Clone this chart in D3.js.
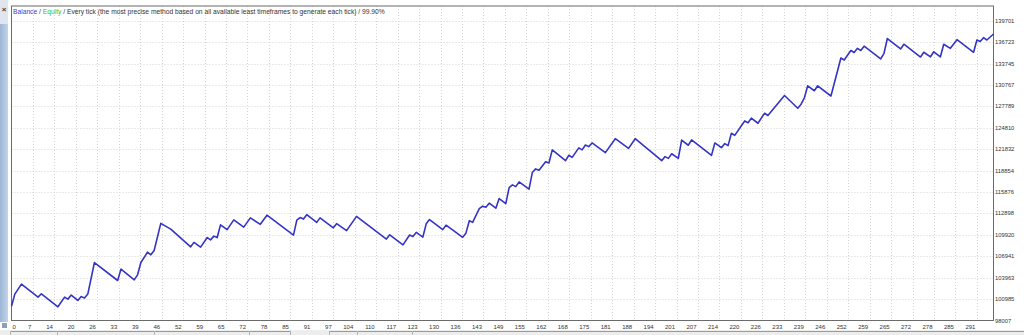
<!DOCTYPE html>
<html>
<head>
<meta charset="utf-8">
<script src="https://cdn.jsdelivr.net/npm/d3@7"></script>
<style>
  body { margin: 0; background: #fff; }
  svg { display: block; font-family: "Liberation Sans", Arial, sans-serif; }
</style>
</head>
<body>
<div id="chart"></div>
<script>
// balance curve from the strategy tester report (turning points only)
const trades = [0, 1, 3, 8, 9, 14, 16, 17, 18, 20, 21, 22, 23, 25, 32, 33, 37, 38, 39, 41,
  42, 43, 45, 48, 54, 55, 57, 59, 60, 61, 62, 63, 65, 67, 70, 72, 75, 77, 85, 86,
  87, 88, 89, 92, 93, 97, 98, 101, 104, 113, 114, 118, 120, 121, 122, 124, 125, 126, 130, 131,
  136, 137, 138, 139, 141, 142, 143, 144, 146, 147, 149, 150, 151, 152, 153, 156, 157, 158, 159, 161,
  162, 163, 167, 168, 169, 171, 172, 173, 174, 175, 179, 182, 186, 188, 196, 197, 198, 199, 201, 202,
  204, 205, 211, 212, 214, 215, 216, 217, 218, 221, 222, 223, 225, 227, 228, 233, 237, 238, 239, 240,
  242, 243, 247, 250, 251, 253, 254, 255, 256, 257, 262, 263, 264, 268, 269, 274, 275, 277, 278, 280,
  281, 283, 285, 290, 291, 292, 293, 294, 296]
const balance = [100000, 101680, 103070, 101260, 101720, 99910, 101260, 100980, 101540, 100790, 101340, 101120, 101680, 106070, 103570, 105150, 103660, 104360, 106070, 107510,
  107140, 107740, 111520, 110710, 108250, 108870, 108210, 109540, 109220, 109740, 109540, 111310, 110650, 112000, 110990, 112280, 111380, 112650, 109880, 111960,
  112320, 112110, 112720, 111650, 112280, 110900, 111470, 110510, 112490, 109330, 109930, 108530, 109890, 109680, 110260, 109610, 111450, 112040, 110650, 111270,
  109570, 110190, 111890, 111650, 113560, 113910, 113770, 114320, 113630, 114960, 114270, 116480, 116870, 116630, 117280, 116270, 118600, 119090, 118910, 120100,
  119920, 121730, 120240, 120990, 120690, 122010, 121730, 122420, 122190, 122700, 121350, 123290, 121940, 123290, 120230, 120800, 120550, 121200, 120550, 123090,
  122380, 123120, 120970, 122700, 122040, 122610, 122330, 124050, 123750, 125760, 125520, 126140, 125440, 126830, 126520, 129300, 127520, 128090, 128980, 130650,
  129960, 130650, 129230, 134510, 134240, 135560, 135280, 135860, 135560, 136160, 134380, 135170, 137220, 135770, 136430, 134650, 135310, 134680, 135380, 134680,
  136430, 135860, 137060, 135310, 137020, 136810, 137340, 137020, 137850]

const xTicks = [0, 7, 14, 20, 26, 33, 39, 46, 52, 59, 65, 72, 78, 85, 91, 97, 104, 110, 117, 123,
  130, 136, 143, 149, 155, 162, 168, 175, 181, 188, 194, 201, 207, 214, 220, 226, 233, 239, 246, 252,
  259, 265, 272, 278, 285, 291]
const yTicks = [98007, 100985, 103963, 106941, 109920, 112898, 115876, 118854, 121832, 124810,
  127789, 130767, 133745, 136723, 139701]

const legendParts = [
  { text: 'Balance', color: '#3b3bd0' },
  { text: ' / ', color: '#333' },
  { text: 'Equity', color: '#2fbf2f' },
  { text: ' / Every tick (the most precise method based on all available least timeframes to generate each tick) / 99.90%', color: '#333' }
]

const width = 1024
const height = 335
const plot = { left: 11.5, right: 993.5, top: 6, bottom: 320.5 }

const svg = d3.select('#chart')
  .append('svg')
  .attr('width', width)
  .attr('height', height)

const x = d3.scaleLinear()
  .domain([0, 296])
  .range([plot.left, plot.right])

const y = d3.scaleLinear()
  .domain([yTicks[0], yTicks[yTicks.length - 1]])
  .range([plot.bottom, 20.7])

// left side panel strip
const grad = svg.append('defs').append('linearGradient')
  .attr('id', 'strip')
  .attr('x1', 0).attr('x2', 1).attr('y1', 0).attr('y2', 0)
grad.append('stop').attr('offset', 0).attr('stop-color', '#9db6d6')
grad.append('stop').attr('offset', 1).attr('stop-color', '#c4d4e8')

svg.append('rect')
  .attr('x', 0).attr('y', 0)
  .attr('width', 8).attr('height', 24)
  .attr('fill', '#dfe6ef')
svg.append('rect')
  .attr('x', 0).attr('y', 24)
  .attr('width', 8).attr('height', 298)
  .attr('fill', 'url(#strip)')
svg.append('text')
  .attr('x', 4).attr('y', 12)
  .attr('text-anchor', 'middle')
  .attr('font-size', 8)
  .attr('font-weight', 'bold')
  .attr('fill', '#444')
  .text('×')
svg.append('rect')
  .attr('x', 2).attr('y', 323)
  .attr('width', 5).attr('height', 5)
  .attr('fill', '#8aa0bb')

// bottom toolbar band
svg.append('rect')
  .attr('x', 0).attr('y', 330)
  .attr('width', width).attr('height', 5)
  .attr('fill', '#ededed')
svg.append('path')
  .attr('d', 'M10,331.5H290M329,331.5H1024')
  .attr('stroke', '#9a9a9a')
  .attr('fill', 'none')
svg.append('path')
  .attr('d', 'M10.5,331V335M57.5,331V335M154.5,331V335M249.5,331V335M290.5,331V335M329.5,331V335M357.5,331V335M412.5,331V335')
  .attr('stroke', '#b5b5b5')
  .attr('fill', 'none')

// grid
const xStep = xTicks[xTicks.length - 1] / (xTicks.length - 1)

svg.append('g')
  .selectAll('line')
  .data(xTicks.slice(1))
  .enter().append('line')
  .attr('x1', (d, i) => Math.round(x((i + 1) * xStep)) + 0.5)
  .attr('x2', (d, i) => Math.round(x((i + 1) * xStep)) + 0.5)
  .attr('y1', plot.top)
  .attr('y2', plot.bottom)
  .attr('stroke', '#d4d4d4')
  .attr('stroke-dasharray', '1,2')

svg.append('g')
  .selectAll('line')
  .data(yTicks.slice(1))
  .enter().append('line')
  .attr('x1', plot.left)
  .attr('x2', plot.right)
  .attr('y1', d => Math.round(y(d)) + 0.5)
  .attr('y2', d => Math.round(y(d)) + 0.5)
  .attr('stroke', '#d4d4d4')
  .attr('stroke-dasharray', '1,2')

// frame
svg.append('rect')
  .attr('x', plot.left).attr('y', plot.top)
  .attr('width', plot.right - plot.left)
  .attr('height', plot.bottom - plot.top)
  .attr('fill', 'none')
  .attr('stroke', '#6b6b6b')
  .attr('stroke-width', 1)

// axis labels
svg.append('g')
  .selectAll('text')
  .data(yTicks)
  .enter().append('text')
  .attr('x', 995)
  .attr('y', d => y(d) + 2)
  .attr('font-size', 5.8)
  .attr('fill', '#333')
  .text(d => d)

svg.append('g')
  .selectAll('text')
  .data(xTicks)
  .enter().append('text')
  .attr('x', (d, i) => i == 0 ? plot.left + 1 : x(i * xStep) - 1.5)
  .attr('y', 328.5)
  .attr('text-anchor', (d, i) => i == 0 ? 'start' : 'end')
  .attr('font-size', 6)
  .attr('fill', '#333')
  .text(d => d)

// legend
const legend = svg.append('text')
  .attr('x', 13)
  .attr('y', 14)
  .attr('font-size', 6.7)
legend.selectAll('tspan')
  .data(legendParts)
  .enter().append('tspan')
  .attr('fill', d => d.color)
  .attr('xml:space', 'preserve')
  .style('white-space', 'pre')
  .text(d => d.text)

// balance line
const points = trades.map((t, i) => [t, balance[i]])
svg.append('path')
  .datum(points)
  .attr('fill', 'none')
  .attr('stroke', '#3434c4')
  .attr('stroke-width', 1.6)
  .attr('stroke-linejoin', 'round')
  .attr('d', d3.line().x(d => x(d[0])).y(d => y(d[1])))
</script>
</body>
</html>
